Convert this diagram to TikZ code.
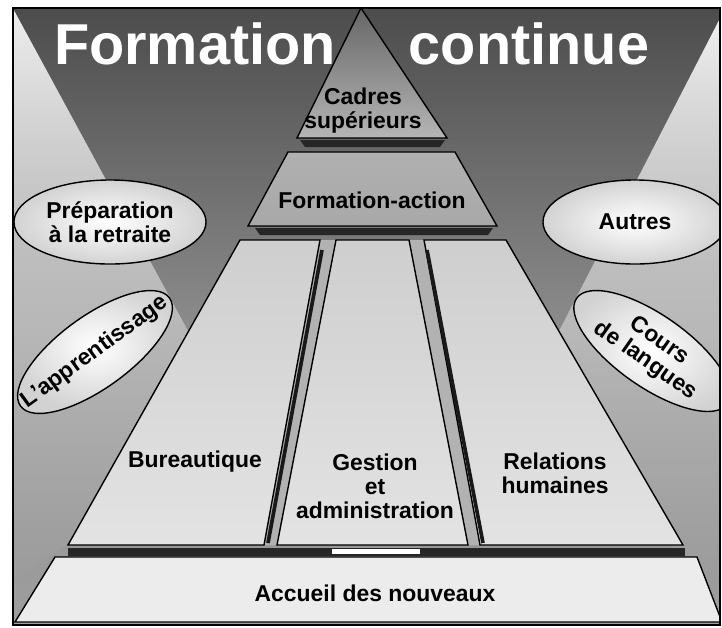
\documentclass[tikz,border=0pt]{standalone}
\usepackage{fontspec}
\setmainfont{Liberation Sans}
\usetikzlibrary{positioning}
\usetikzlibrary{shapes,shapes.geometric,fadings}

\definecolor{bgtop}{gray}{0.30}
\definecolor{bgmid}{gray}{0.55}
\definecolor{bgbot}{gray}{0.62}
\tikzfading[name=beamfade, top color=transparent!0, middle color=transparent!35, bottom color=transparent!100]

\tikzstyle{tier} = [draw=black, line width=1pt]
\tikzstyle{tiertext} = [draw=none, fill=none, text centered, align=center, font=\fontsize{16.3}{17}\selectfont\bfseries]
\tikzstyle{titletext} = [text=white, anchor=base, font=\fontsize{41}{45}\selectfont\bfseries]
\tikzstyle{bubble} = [ellipse, draw, line width=1pt, inner color=white, outer color=gray!35]
\tikzstyle{shadowband} = [fill=black!85, draw=none]
\tikzstyle{beam} = [fill=gray!12, path fading=beamfade]
\tikzstyle{edgeshade} = [draw=black!90, line width=2.6pt]

\begin{document}
\begin{tikzpicture}[x=0.025cm, y=-0.025cm]
	\useasboundingbox (0,0) rectangle (722,627);

	\begin{scope}
	\clip (13,8) rectangle (720,625);
	% background and light beams
	\shade [top color=bgtop, bottom color=bgmid] (13,8) rectangle (720,331);
	\shade [top color=bgmid, bottom color=bgbot] (13,330) rectangle (720,625);
	\path [beam] (13,8) -- (242,430) -- (13,580) -- cycle;
	\path [beam] (720,18) -- (508,430) -- (720,580) -- cycle;

	% title
	\node [titletext] (T1) at (195,64) {Formation};
	\node [titletext] (T2) at (529,64) {continue};

	% pyramid
	\filldraw [tier, top color=gray!80!black, bottom color=gray!58] (361,8) -- (447,138) -- (297,138) -- cycle;
	\path [shadowband] (300,140) -- (445,140) -- (440,147) -- (305,147) -- cycle;
	\filldraw [tier, top color=gray!62, bottom color=gray!68] (288,152) -- (455,152) -- (497,226) -- (248,226) -- cycle;
	\path [shadowband] (255,228) -- (493,228) -- (488,235) -- (260,235) -- cycle;

	\fill [gray!60] (320,240) -- (424,240) -- (482,545) -- (264,545) -- cycle;
	\filldraw [tier, top color=gray!38, bottom color=gray!22] (240,240) -- (320,240) -- (264,545) -- (68,545) -- cycle;
	\filldraw [tier, top color=gray!38, bottom color=gray!22] (336,240) -- (409,240) -- (468,545) -- (277,545) -- cycle;
	\filldraw [tier, top color=gray!38, bottom color=gray!22] (424,240) -- (506,240) -- (683,545) -- (480,545) -- cycle;
	\draw [edgeshade] (322,250) -- (268,543);
	\draw [edgeshade] (427,250) -- (483,543);

	\path [shadowband] (68,548) -- (685,548) -- (685,556) -- (68,556) -- cycle;
	\fill [white] (332,549) rectangle (420,554);
	\filldraw [tier, fill=gray!15] (55,557) -- (697,557) -- (722,622) -- (15,622) -- cycle;

	% place nodes
	\node [tiertext] (N1) at (363,111) {Cadres\\supérieurs};
	\node [tiertext] (N2) at (372,200) {Formation-action};
	\node [tiertext] (N3) at (195,462) {Bureautique};
	\node [tiertext] (N4) at (375,486) {Gestion\\et\\administration};
	\node [tiertext] (N5) at (555,473) {Relations\\humaines};
	\node [tiertext] (N6) at (375,593) {Accueil des nouveaux};

	% side bubbles
	\node [bubble, minimum width=4.8cm, minimum height=2.1cm] (B1) at (110,222) {};
	\node [tiertext] (N7) at (B1) {Préparation\\à la retraite};
	\node [bubble, minimum width=4.6cm, minimum height=2.1cm] (B2) at (635,222) {};
	\node [tiertext] (N8) at (B2) {Autres};
	\node [bubble, rotate=36, minimum width=4.6cm, minimum height=1.8cm] (B3) at (95,352) {};
	\node [tiertext, rotate=36] (N9) at (B3) {L'apprentissage};
	\node [bubble, rotate=-35, minimum width=4.6cm, minimum height=1.8cm] (B4) at (652,351) {};
	\node [tiertext, rotate=-35] (N10) at (B4) {Cours\\de langues};
	\end{scope}

	% frame
	\draw [line width=1.4pt] (13,8) rectangle (720,625);
\end{tikzpicture}
\end{document}
